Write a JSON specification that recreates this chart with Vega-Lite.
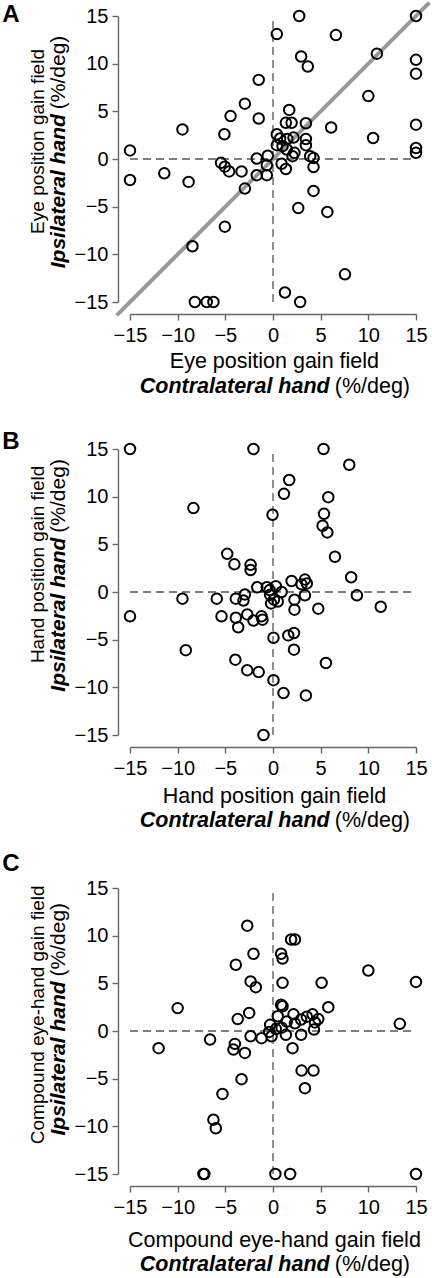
{
  "$schema": "https://vega.github.io/schema/vega-lite/v6.json",
  "padding": {"left": 2, "top": 0, "right": 0, "bottom": 0},
  "background": "white",
  "config": {
    "view": {"stroke": null},
    "font": "Liberation Sans",
    "axis": {
      "grid": false,
      "title": null,
      "values": [-15, -10, -5, 0, 5, 10, 15],
      "offset": 12,
      "domainColor": "#666666",
      "domainWidth": 1.4,
      "tickColor": "#666666",
      "tickWidth": 1.4,
      "tickSize": 6,
      "labelFont": "Liberation Sans",
      "labelFontSize": 20,
      "labelColor": "black",
      "labelFlush": false,
      "labelOverlap": false,
      "labelBound": false
    },
    "axisX": {"labelPadding": 5},
    "axisY": {"labelPadding": 4},
    "text": {"font": "Liberation Sans", "color": "black"}
  },
  "datasets": {
    "one": [{}],
    "A": [
      {"x": -15, "y": 0.9}, {"x": -15, "y": -2.2}, {"x": -11.4, "y": -1.5}, {"x": -9.5, "y": 3.1},
      {"x": -8.85, "y": -2.4}, {"x": -5.1, "y": 2.6}, {"x": -4.45, "y": 4.5}, {"x": -2.95, "y": 5.8},
      {"x": -1.5, "y": 8.3}, {"x": -1.5, "y": 4.25}, {"x": 0.4, "y": 13.1}, {"x": 2.75, "y": 15},
      {"x": 2.95, "y": 10.75}, {"x": 3.65, "y": 9.7}, {"x": 6.6, "y": 13}, {"x": 10.9, "y": 11.05},
      {"x": 15, "y": 15}, {"x": 15, "y": 10.4}, {"x": 15, "y": 8.95}, {"x": 10, "y": 6.6},
      {"x": 6.1, "y": 3.3}, {"x": 10.5, "y": 2.2}, {"x": 15, "y": 3.6}, {"x": 15, "y": 1.15},
      {"x": 15, "y": 0.65}, {"x": 1.7, "y": 5.15}, {"x": 1.35, "y": 3.8}, {"x": 1.95, "y": 3.8},
      {"x": 3.45, "y": 3.75}, {"x": 0.4, "y": 2.6}, {"x": 0.75, "y": 2.15}, {"x": 0.4, "y": 1.45},
      {"x": 1.0, "y": 1.35}, {"x": 1.5, "y": 2.1}, {"x": 2.15, "y": 2.25}, {"x": 3.45, "y": 2.1},
      {"x": 3.45, "y": 1.45}, {"x": 1.45, "y": 1.0}, {"x": 2.25, "y": 0.65}, {"x": 2.05, "y": 0.3},
      {"x": 3.9, "y": 0.3}, {"x": 4.25, "y": 0.1}, {"x": 4.25, "y": -0.85}, {"x": 0.9, "y": -0.5},
      {"x": 1.35, "y": -1.05}, {"x": -0.55, "y": 0.35}, {"x": -0.65, "y": -0.65}, {"x": -0.65, "y": -1.7},
      {"x": -1.7, "y": 0.05}, {"x": -1.7, "y": -1.7}, {"x": -3.3, "y": -1.3}, {"x": -5.45, "y": -0.4},
      {"x": -5.05, "y": -0.8}, {"x": -4.6, "y": -1.3}, {"x": -2.95, "y": -3.1}, {"x": 4.25, "y": -3.35},
      {"x": 2.65, "y": -5.15}, {"x": 5.7, "y": -5.55}, {"x": -5.05, "y": -7.1}, {"x": -8.45, "y": -9.15},
      {"x": 7.55, "y": -12.1}, {"x": 1.25, "y": -14}, {"x": 2.85, "y": -15}, {"x": -8.2, "y": -15},
      {"x": -6.95, "y": -15}, {"x": -6.25, "y": -15}
    ],
    "B": [
      {"x": -15, "y": 15}, {"x": -2.05, "y": 15}, {"x": 5.3, "y": 15}, {"x": 8.0, "y": 13.35},
      {"x": 1.7, "y": 11.75}, {"x": 1.15, "y": 10.3}, {"x": 5.8, "y": 9.95}, {"x": -8.35, "y": 8.8},
      {"x": -0.05, "y": 8.1}, {"x": 5.35, "y": 8.2}, {"x": 5.2, "y": 6.95}, {"x": 5.7, "y": 6.25},
      {"x": 6.5, "y": 3.7}, {"x": -4.8, "y": 4.0}, {"x": -4.05, "y": 2.9}, {"x": -2.35, "y": 2.85},
      {"x": -2.35, "y": 2.3}, {"x": 8.2, "y": 1.55}, {"x": 1.95, "y": 1.15}, {"x": 3.35, "y": 1.3},
      {"x": 3.55, "y": 0.9}, {"x": 3.0, "y": 0.8}, {"x": -1.65, "y": 0.5}, {"x": -0.65, "y": 0.5},
      {"x": -0.35, "y": 0.2}, {"x": 0.3, "y": 0.6}, {"x": 0.9, "y": 0}, {"x": -0.3, "y": -0.3},
      {"x": 0.1, "y": -0.8}, {"x": -0.2, "y": -1.2}, {"x": 0.5, "y": -1.0}, {"x": 8.8, "y": -0.35},
      {"x": -9.5, "y": -0.7}, {"x": -5.9, "y": -0.7}, {"x": -3.9, "y": -0.7}, {"x": -2.95, "y": -0.25},
      {"x": -3.1, "y": -0.9}, {"x": 3.35, "y": -0.35}, {"x": 2.25, "y": -0.8}, {"x": 11.3, "y": -1.55},
      {"x": 4.75, "y": -1.75}, {"x": 2.25, "y": -1.85}, {"x": -15, "y": -2.55}, {"x": -5.4, "y": -2.55},
      {"x": -3.9, "y": -2.7}, {"x": -2.7, "y": -2.35}, {"x": -2.05, "y": -3.0}, {"x": -1.2, "y": -2.55},
      {"x": -1.1, "y": -2.9}, {"x": -3.65, "y": -3.7}, {"x": 0.05, "y": -4.8}, {"x": 1.6, "y": -4.55},
      {"x": 2.2, "y": -4.3}, {"x": 2.2, "y": -6.05}, {"x": -9.15, "y": -6.1}, {"x": 5.55, "y": -7.45},
      {"x": -3.95, "y": -7.1}, {"x": -2.7, "y": -8.2}, {"x": -1.5, "y": -8.4}, {"x": 0.05, "y": -9.25},
      {"x": 1.1, "y": -10.6}, {"x": 3.45, "y": -10.85}, {"x": -1.0, "y": -15}
    ],
    "C": [
      {"x": -2.7, "y": 11.05}, {"x": 1.9, "y": 9.6}, {"x": 2.3, "y": 9.6}, {"x": -2.05, "y": 8.1},
      {"x": 0.85, "y": 8.1}, {"x": 1.0, "y": 7.6}, {"x": -3.9, "y": 6.95}, {"x": 10, "y": 6.35},
      {"x": -2.35, "y": 5.2}, {"x": -1.8, "y": 4.6}, {"x": 1.0, "y": 5.05}, {"x": 5.1, "y": 5.05},
      {"x": 15, "y": 5.15}, {"x": -10, "y": 2.4}, {"x": 5.8, "y": 2.5}, {"x": 0.85, "y": 2.75},
      {"x": 1.0, "y": 2.6}, {"x": -2.5, "y": 1.9}, {"x": -3.7, "y": 1.25}, {"x": 0.5, "y": 1.55},
      {"x": 2.15, "y": 1.75}, {"x": 2.95, "y": 1.2}, {"x": 3.55, "y": 1.5}, {"x": 4.15, "y": 1.75},
      {"x": 4.75, "y": 1.25}, {"x": 4.4, "y": 0.9}, {"x": 2.3, "y": 0.8}, {"x": 1.45, "y": 1.0},
      {"x": 13.3, "y": 0.75}, {"x": -0.3, "y": 0.65}, {"x": 0.3, "y": 0.2}, {"x": 0.9, "y": 0.35},
      {"x": -12, "y": -1.8}, {"x": -6.6, "y": -0.9}, {"x": -4.0, "y": -1.35}, {"x": -4.15, "y": -1.95},
      {"x": -2.95, "y": -2.3}, {"x": -2.35, "y": -0.55}, {"x": -1.2, "y": -0.75}, {"x": -0.15, "y": -0.55},
      {"x": 1.35, "y": -0.4}, {"x": 2.95, "y": -0.4}, {"x": 2.05, "y": -1.8}, {"x": 3.0, "y": -4.15},
      {"x": 4.25, "y": -4.15}, {"x": 3.35, "y": -6.0}, {"x": -3.3, "y": -5.05}, {"x": -5.3, "y": -6.6},
      {"x": -6.25, "y": -9.3}, {"x": -6.0, "y": -10.2}, {"x": -7.3, "y": -15}, {"x": -7.2, "y": -15},
      {"x": 0.25, "y": -15}, {"x": 1.8, "y": -15}, {"x": 15, "y": -15}, {"x": 4.3, "y": 0.15},
      {"x": -0.4, "y": -0.1}
    ]
  },
  "vconcat": [
    {
      "spacing": 32,
      "vconcat": [
        {
          "width": 286, "height": 286,
          "layer": [
            {"data": {"name": "one"}, "mark": {"type": "rule", "color": "#555555", "strokeWidth": 1.3, "strokeDash": [8, 5]},
             "encoding": {"x": {"datum": 0, "type": "quantitative", "scale": {"domain": [-15, 15], "nice": false, "zero": false}}, "y": {"datum": -15, "type": "quantitative", "scale": {"domain": [-15, 15], "nice": false, "zero": false}}, "y2": {"datum": 15}}},
            {"data": {"name": "one"}, "mark": {"type": "rule", "color": "#555555", "strokeWidth": 1.3, "strokeDash": [8, 5]},
             "encoding": {"y": {"datum": 0, "type": "quantitative"}, "x": {"datum": -15, "type": "quantitative"}, "x2": {"datum": 15}}},
            {"data": {"name": "one"}, "mark": {"type": "rule", "color": "#999999", "strokeWidth": 4},
             "encoding": {"x": {"datum": -16.4, "type": "quantitative"}, "y": {"datum": -16.4, "type": "quantitative"}, "x2": {"datum": 16.4}, "y2": {"datum": 16.4}}},
            {"data": {"name": "A"}, "mark": {"type": "point", "shape": "circle", "filled": false, "stroke": "black", "strokeWidth": 2, "size": 110, "opacity": 1},
             "encoding": {"x": {"field": "x", "type": "quantitative"}, "y": {"field": "y", "type": "quantitative"}}},
            {"data": {"name": "one"}, "mark": {"type": "text", "text": "A", "fontSize": 24, "fontWeight": "bold", "align": "left", "baseline": "alphabetic"},
             "encoding": {"x": {"datum": -28.4, "type": "quantitative"}, "y": {"datum": 14.4, "type": "quantitative"}}},
            {"data": {"name": "one"}, "mark": {"type": "text", "text": "Eye position gain field", "fontSize": 21.5, "align": "center", "baseline": "alphabetic"},
             "encoding": {"x": {"datum": 0.15, "type": "quantitative"}, "y": {"datum": -21.9, "type": "quantitative"}}},
            {"data": {"name": "one"}, "mark": {"type": "text", "text": "Contralateral hand", "fontSize": 21.5, "fontWeight": "bold", "fontStyle": "italic", "align": "right", "baseline": "alphabetic"},
             "encoding": {"x": {"datum": 5.95, "type": "quantitative"}, "y": {"datum": -24.5, "type": "quantitative"}}},
            {"data": {"name": "one"}, "mark": {"type": "text", "text": "(%/deg)", "fontSize": 21.5, "align": "left", "baseline": "alphabetic", "dx": 5},
             "encoding": {"x": {"datum": 5.95, "type": "quantitative"}, "y": {"datum": -24.5, "type": "quantitative"}}},
            {"data": {"name": "one"}, "mark": {"type": "text", "text": "Eye position gain field", "fontSize": 19, "angle": 270, "align": "center", "baseline": "alphabetic"},
             "encoding": {"x": {"datum": -24.07, "type": "quantitative"}, "y": {"datum": 1.84, "type": "quantitative"}}},
            {"data": {"name": "one"}, "mark": {"type": "text", "text": "Ipsilateral hand", "fontSize": 21, "fontWeight": "bold", "fontStyle": "italic", "angle": 270, "align": "right", "baseline": "alphabetic"},
             "encoding": {"x": {"datum": -21.82, "type": "quantitative"}, "y": {"datum": 4.7, "type": "quantitative"}}},
            {"data": {"name": "one"}, "mark": {"type": "text", "text": "(%/deg)", "fontSize": 21, "angle": 270, "align": "left", "baseline": "alphabetic", "dx": 5},
             "encoding": {"x": {"datum": -21.82, "type": "quantitative"}, "y": {"datum": 4.7, "type": "quantitative"}}}
          ]
        },
        {
          "width": 286, "height": 286,
          "layer": [
            {"data": {"name": "one"}, "mark": {"type": "rule", "color": "#555555", "strokeWidth": 1.3, "strokeDash": [8, 5]},
             "encoding": {"x": {"datum": 0, "type": "quantitative", "scale": {"domain": [-15, 15], "nice": false, "zero": false}}, "y": {"datum": -15, "type": "quantitative", "scale": {"domain": [-15, 15], "nice": false, "zero": false}}, "y2": {"datum": 15}}},
            {"data": {"name": "one"}, "mark": {"type": "rule", "color": "#555555", "strokeWidth": 1.3, "strokeDash": [8, 5]},
             "encoding": {"y": {"datum": 0, "type": "quantitative"}, "x": {"datum": -15, "type": "quantitative"}, "x2": {"datum": 15}}},
            {"data": {"name": "B"}, "mark": {"type": "point", "shape": "circle", "filled": false, "stroke": "black", "strokeWidth": 2, "size": 110, "opacity": 1},
             "encoding": {"x": {"field": "x", "type": "quantitative"}, "y": {"field": "y", "type": "quantitative"}}},
            {"data": {"name": "one"}, "mark": {"type": "text", "text": "B", "fontSize": 24, "fontWeight": "bold", "align": "left", "baseline": "alphabetic"},
             "encoding": {"x": {"datum": -28.4, "type": "quantitative"}, "y": {"datum": 15.0, "type": "quantitative"}}},
            {"data": {"name": "one"}, "mark": {"type": "text", "text": "Hand position gain field", "fontSize": 21.5, "align": "center", "baseline": "alphabetic"},
             "encoding": {"x": {"datum": 0.15, "type": "quantitative"}, "y": {"datum": -22.1, "type": "quantitative"}}},
            {"data": {"name": "one"}, "mark": {"type": "text", "text": "Contralateral hand", "fontSize": 21.5, "fontWeight": "bold", "fontStyle": "italic", "align": "right", "baseline": "alphabetic"},
             "encoding": {"x": {"datum": 5.95, "type": "quantitative"}, "y": {"datum": -24.7, "type": "quantitative"}}},
            {"data": {"name": "one"}, "mark": {"type": "text", "text": "(%/deg)", "fontSize": 21.5, "align": "left", "baseline": "alphabetic", "dx": 5},
             "encoding": {"x": {"datum": 5.95, "type": "quantitative"}, "y": {"datum": -24.7, "type": "quantitative"}}},
            {"data": {"name": "one"}, "mark": {"type": "text", "text": "Hand position gain field", "fontSize": 19, "angle": 270, "align": "center", "baseline": "alphabetic"},
             "encoding": {"x": {"datum": -24.07, "type": "quantitative"}, "y": {"datum": 2.9, "type": "quantitative"}}},
            {"data": {"name": "one"}, "mark": {"type": "text", "text": "Ipsilateral hand", "fontSize": 21, "fontWeight": "bold", "fontStyle": "italic", "angle": 270, "align": "right", "baseline": "alphabetic"},
             "encoding": {"x": {"datum": -21.82, "type": "quantitative"}, "y": {"datum": 5.7, "type": "quantitative"}}},
            {"data": {"name": "one"}, "mark": {"type": "text", "text": "(%/deg)", "fontSize": 21, "angle": 270, "align": "left", "baseline": "alphabetic", "dx": 5},
             "encoding": {"x": {"datum": -21.82, "type": "quantitative"}, "y": {"datum": 5.7, "type": "quantitative"}}}
          ]
        }
      ]
    },
    {
      "width": 286, "height": 286,
      "layer": [
        {"data": {"name": "one"}, "mark": {"type": "rule", "color": "#555555", "strokeWidth": 1.3, "strokeDash": [8, 5]},
         "encoding": {"x": {"datum": 0, "type": "quantitative", "scale": {"domain": [-15, 15], "nice": false, "zero": false}}, "y": {"datum": -15, "type": "quantitative", "scale": {"domain": [-15, 15], "nice": false, "zero": false}}, "y2": {"datum": 15}}},
        {"data": {"name": "one"}, "mark": {"type": "rule", "color": "#555555", "strokeWidth": 1.3, "strokeDash": [8, 5]},
         "encoding": {"y": {"datum": 0, "type": "quantitative"}, "x": {"datum": -15, "type": "quantitative"}, "x2": {"datum": 15}}},
        {"data": {"name": "C"}, "mark": {"type": "point", "shape": "circle", "filled": false, "stroke": "black", "strokeWidth": 2, "size": 110, "opacity": 1},
         "encoding": {"x": {"field": "x", "type": "quantitative"}, "y": {"field": "y", "type": "quantitative"}}},
        {"data": {"name": "one"}, "mark": {"type": "text", "text": "C", "fontSize": 24, "fontWeight": "bold", "align": "left", "baseline": "alphabetic"},
         "encoding": {"x": {"datum": -28.4, "type": "quantitative"}, "y": {"datum": 16.75, "type": "quantitative"}}},
        {"data": {"name": "one"}, "mark": {"type": "text", "text": "Compound eye-hand gain field", "fontSize": 21.5, "align": "center", "baseline": "alphabetic"},
         "encoding": {"x": {"datum": 0.15, "type": "quantitative"}, "y": {"datum": -22.7, "type": "quantitative"}}},
        {"data": {"name": "one"}, "mark": {"type": "text", "text": "Contralateral hand", "fontSize": 21.5, "fontWeight": "bold", "fontStyle": "italic", "align": "right", "baseline": "alphabetic"},
         "encoding": {"x": {"datum": 5.95, "type": "quantitative"}, "y": {"datum": -25.2, "type": "quantitative"}}},
        {"data": {"name": "one"}, "mark": {"type": "text", "text": "(%/deg)", "fontSize": 21.5, "align": "left", "baseline": "alphabetic", "dx": 5},
         "encoding": {"x": {"datum": 5.95, "type": "quantitative"}, "y": {"datum": -25.2, "type": "quantitative"}}},
        {"data": {"name": "one"}, "mark": {"type": "text", "text": "Compound eye-hand gain field", "fontSize": 19, "angle": 270, "align": "center", "baseline": "alphabetic"},
         "encoding": {"x": {"datum": -24.07, "type": "quantitative"}, "y": {"datum": 1.7, "type": "quantitative"}}},
        {"data": {"name": "one"}, "mark": {"type": "text", "text": "Ipsilateral hand", "fontSize": 21, "fontWeight": "bold", "fontStyle": "italic", "angle": 270, "align": "right", "baseline": "alphabetic"},
         "encoding": {"x": {"datum": -21.82, "type": "quantitative"}, "y": {"datum": 5.2, "type": "quantitative"}}},
        {"data": {"name": "one"}, "mark": {"type": "text", "text": "(%/deg)", "fontSize": 21, "angle": 270, "align": "left", "baseline": "alphabetic", "dx": 5},
         "encoding": {"x": {"datum": -21.82, "type": "quantitative"}, "y": {"datum": 5.2, "type": "quantitative"}}}
      ]
    }
  ]
}
